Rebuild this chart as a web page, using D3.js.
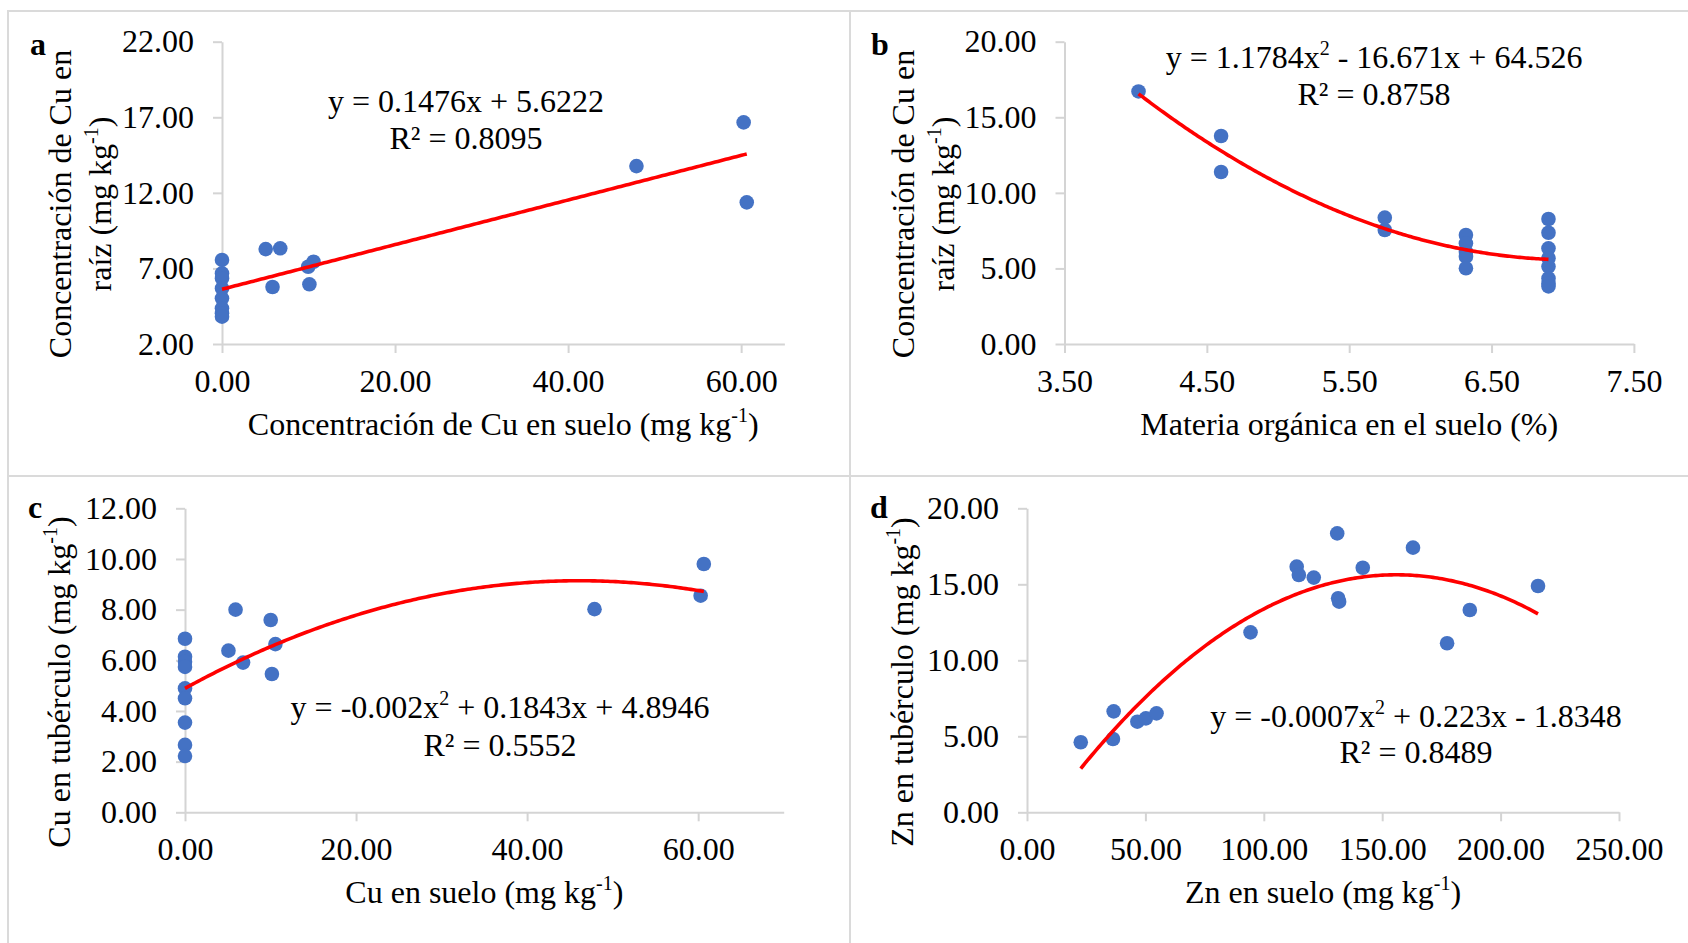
<!DOCTYPE html>
<html><head><meta charset="utf-8">
<script src="https://cdn.jsdelivr.net/npm/d3@7"></script>
<style>
body{margin:0;background:#fff}
text{font-family:"Liberation Serif","Times New Roman",serif;fill:#000}
</style>
</head><body>
<svg id="chart" width="1688" height="943"></svg>
<script>
// ---------- data ----------
const aX = [0,0,0,0,0,0,0,0, 5.05,6.73,5.84,10.1,9.96,10.58,47.9,60.29,60.65];
const aY = [7.56,6.67,6.34,5.68,5.02,4.36,4.03,3.81, 8.28,8.33,5.77,5.95,7.11,7.44,13.77,16.66,11.37];
const bX = [4.02,4.60,4.60,5.75,5.75,6.32,6.32,6.32,6.32,6.32,6.9,6.9,6.9,6.9,6.9,6.9,6.9,6.9];
const bY = [16.71,13.76,11.38,8.36,7.54,7.21,6.66,6.11,5.78,5.01,8.27,7.36,6.33,5.67,5.12,4.34,4.01,3.81];
const cX = [0,0,0,0,0,0,0,0,0, 5.08,5.91,6.79,10.02,10.57,10.16,47.88,60.29,60.66];
const cY = [6.85,6.14,5.94,5.74,4.89,4.50,3.54,2.66,2.22, 6.38,8.0,5.91,7.59,6.64,5.46,8.02,8.55,9.80];
const dX = [22.7,36.6,36.3,46.6,50.2,54.7,94.4,113.9,114.8,121.1,131.0,131.4,131.8,141.8,163.0,177.4,187.0,215.8];
const dY = [4.61,6.64,4.82,5.96,6.18,6.51,11.84,16.16,15.61,15.44,18.35,14.08,13.86,16.09,17.41,11.12,13.31,14.89];

// trendline coefficients as printed [x², x, constant]
const aCoef = [0, 0.1476, 5.6222];
const bCoef = [1.1784, -16.671, 64.526];
const cCoef = [-0.002, 0.1843, 4.8946];
const dCoef = [-0.0007, 0.223, -1.8348];

// tick values
const aXTicks = [0,20,40,60],        aYTicks = [2,7,12,17,22];
const bXTicks = [3.5,4.5,5.5,6.5,7.5], bYTicks = [0,5,10,15,20];
const cXTicks = [0,20,40,60],        cYTicks = [0,2,4,6,8,10,12];
const dXTicks = [0,50,100,150,200,250], dYTicks = [0,5,10,15,20];

// texts  (parts: [text, isSuperscript])
const panelLetters = ["a","b","c","d"];
const aEq = [[["y = 0.1476x + 5.6222"]], [["R² = 0.8095"]]];
const bEq = [[["y = 1.1784x"],["2",1],[" - 16.671x + 64.526"]], [["R² = 0.8758"]]];
const cEq = [[["y = -0.002x"],["2",1],[" + 0.1843x + 4.8946"]], [["R² = 0.5552"]]];
const dEq = [[["y = -0.0007x"],["2",1],[" + 0.223x - 1.8348"]], [["R² = 0.8489"]]];
const aXTitle = [["Concentración de Cu en suelo (mg kg"],["-1",1],[")"]];
const aYTitle = [[["Concentración de Cu en"]], [["raíz (mg kg"],["-1",1],[")"]]];
const bXTitle = [["Materia orgánica en el suelo (%)"]];
const bYTitle = aYTitle;
const cXTitle = [["Cu en suelo (mg kg"],["-1",1],[")"]];
const cYTitle = [[["Cu en tubérculo (mg kg"],["-1",1],[")"]]];
const dXTitle = [["Zn en suelo (mg kg"],["-1",1],[")"]];
const dYTitle = [[["Zn en tubérculo (mg kg"],["-1",1],[")"]]];

// least-squares quadratic fit (the unrounded Excel trendline) from the data
function quadFit(xs, ys){
  const n = xs.length; let S = [0,0,0,0,0], T = [0,0,0];
  for (let i = 0; i < n; i++){
    let xp = 1;
    for (let k = 0; k < 5; k++){ S[k] += xp; if (k < 3) T[k] += xp * ys[i]; xp *= xs[i]; }
  }
  const M = [[S[4],S[3],S[2],T[2]],[S[3],S[2],S[1],T[1]],[S[2],S[1],S[0],T[0]]];
  for (let c = 0; c < 3; c++){
    for (let r = c + 1; r < 3; r++){
      const f = M[r][c] / M[c][c];
      for (let k = c; k < 4; k++) M[r][k] -= f * M[c][k];
    }
  }
  const s = [0,0,0];
  for (let r = 2; r >= 0; r--){
    let v = M[r][3];
    for (let k = r + 1; k < 3; k++) v -= M[r][k] * s[k];
    s[r] = v / M[r][r];
  }
  return s;
}

// ---------- layout ----------
const panels = [
  {x:aX,y:aY,coef:aCoef,xt:aXTicks,yt:aYTicks,eq:aEq,xTitle:aXTitle,yTitle:aYTitle,
   left:222,right:784.4,top:41.7,bottom:344,xd:[0,65],yd:[2,22],
   yTitleY:204,yTitleX:[71,111],eqPos:[466,111.7,149],letter:[30,55]},
  {x:bX,y:bY,coef:bCoef,xt:bXTicks,yt:bYTicks,eq:bEq,xTitle:bXTitle,yTitle:bYTitle,
   left:1064.5,right:1633.9,top:41.7,bottom:344,xd:[3.5,7.5],yd:[0,20],
   yTitleY:204,yTitleX:[913.5,953.5],eqPos:[1374,68,104.5],letter:[871,55]},
  {x:cX,y:cY,coef:cCoef,xt:cXTicks,yt:cYTicks,eq:cEq,xTitle:cXTitle,yTitle:cYTitle,
   left:185,right:783.7,top:508.3,bottom:812.3,xd:[0,70],yd:[0,12],
   yTitleY:682,yTitleX:[70],eqPos:[500,718,756],letter:[28,518]},
  {x:dX,y:dY,coef:quadFit(dX, dY),xt:dXTicks,yt:dYTicks,eq:dEq,xTitle:dXTitle,yTitle:dYTitle,
   left:1027,right:1619,top:508.3,bottom:812.3,xd:[0,250],yd:[0,20],
   yTitleY:682,yTitleX:[913],eqPos:[1416,727,763],letter:[870,518]}
];

const FS = 32, GRAY = "#d4d4d4";
const svg = d3.select("#chart");

// frame lines
const frame = svg.append("g").attr("stroke", "#dadada").attr("stroke-width", 2);
frame.append("line").attr("x1",7).attr("x2",1688).attr("y1",11).attr("y2",11);
frame.append("line").attr("x1",8).attr("x2",8).attr("y1",10).attr("y2",943);
frame.append("line").attr("x1",850).attr("x2",850).attr("y1",10).attr("y2",943);
frame.append("line").attr("x1",7).attr("x2",1688).attr("y1",476).attr("y2",476);

function addParts(t, parts){
  let shifted = false;
  parts.forEach(p => {
    const ts = t.append("tspan").text(p[0]);
    if (p[1]) { ts.attr("font-size", 20).attr("dy", -13); shifted = true; }
    else if (shifted) { ts.attr("dy", 13); shifted = false; }
  });
}

panels.forEach((p, i) => {
  const g = svg.append("g");
  const xs = d3.scaleLinear().domain(p.xd).range([p.left, p.right]);
  const ys = d3.scaleLinear().domain(p.yd).range([p.bottom, p.top]);

  const fmt = d3.format(".2f");
  const xa = g.append("g").attr("transform", `translate(0,${p.bottom})`)
    .call(d3.axisBottom(xs).tickValues(p.xt).tickFormat(fmt).tickSizeInner(9).tickSizeOuter(0).tickPadding(16));
  const ya = g.append("g").attr("transform", `translate(${p.left},0)`)
    .call(d3.axisLeft(ys).tickValues(p.yt).tickFormat(fmt).tickSizeInner(9).tickSizeOuter(0).tickPadding(19));
  [xa, ya].forEach(a => {
    a.attr("font-family", null).attr("font-size", null);
    a.selectAll("path,line").attr("stroke", GRAY).attr("stroke-width", 2);
    a.selectAll("text").attr("font-size", FS).attr("fill", "#000");
  });

  // points
  g.append("g").selectAll("circle").data(p.x.map((v, k) => [v, p.y[k]])).join("circle")
    .attr("cx", d => xs(d[0])).attr("cy", d => ys(d[1])).attr("r", 7.3).attr("fill", "#4472C4");

  // trendline over the data range
  const [x0, x1] = d3.extent(p.x);
  const samples = d3.range(0, 201).map(k => x0 + (x1 - x0) * k / 200);
  const f = x => p.coef[0]*x*x + p.coef[1]*x + p.coef[2];
  g.append("path").datum(samples)
    .attr("d", d3.line().x(d => xs(d)).y(d => ys(f(d))))
    .attr("fill", "none").attr("stroke", "#FF0000").attr("stroke-width", 3.6);

  // equation
  p.eq.forEach((line, k) => {
    const t = g.append("text").attr("x", p.eqPos[0]).attr("y", p.eqPos[1 + k])
      .attr("text-anchor", "middle").attr("font-size", FS);
    addParts(t, line);
  });

  // x title
  const xt = g.append("text").attr("x", (p.left + p.right) / 2).attr("y", p.bottom + 91)
    .attr("text-anchor", "middle").attr("font-size", FS);
  addParts(xt, p.xTitle);

  // y title
  p.yTitle.forEach((line, k) => {
    const t = g.append("text")
      .attr("transform", `translate(${p.yTitleX[k]},${p.yTitleY}) rotate(-90)`)
      .attr("text-anchor", "middle").attr("font-size", FS);
    addParts(t, line);
  });

  // panel letter
  g.append("text").attr("x", p.letter[0]).attr("y", p.letter[1])
    .attr("font-size", FS).attr("font-weight", "bold").text(panelLetters[i]);
});
</script>
</body></html>
